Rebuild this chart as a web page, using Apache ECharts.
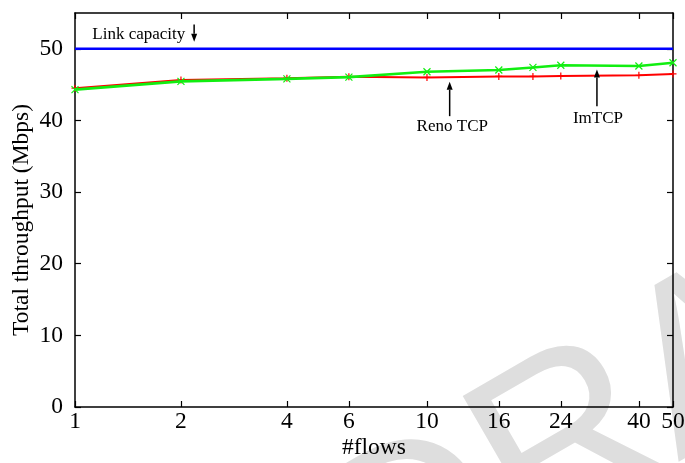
<!DOCTYPE html>
<html>
<head>
<meta charset="utf-8">
<script src="https://cdn.jsdelivr.net/npm/echarts@6/dist/echarts.min.js"></script>
<style>
  html, body { margin: 0; padding: 0; background: #ffffff; }
  #chart { width: 685px; height: 463px; }
</style>
</head>
<body>
<div id="chart"></div>
<script>
// Number of concurrent flows (log-scaled x axis)
const flows = [1, 2, 4, 6, 10, 16, 20, 24, 40, 50];
// Total throughput in Mbps
const renoTcp = [44.5, 45.65, 45.9, 46.1, 46.0, 46.15, 46.15, 46.2, 46.3, 46.5];
const imTcp   = [44.3, 45.45, 45.8, 46.05, 46.8, 47.05, 47.4, 47.7, 47.6, 48.05];
// Bottleneck link capacity in Mbps
const linkCapacity = 50;
const capacityRange = [1, 50];
// Tick values
const xTicks = [1, 2, 4, 6, 10, 16, 24, 40, 50];
const yTicks = [0, 10, 20, 30, 40, 50];

const SERIF = '"Liberation Serif", "Times New Roman", serif';
const PLUS  = 'path://M5,0L5,10M0,5L10,5';
const CROSS = 'path://M0,0L10,10M10,0L0,10';

const chart = echarts.init(document.getElementById('chart'), null, { renderer: 'canvas' });

const axisLine = { show: true, onZero: false, lineStyle: { color: '#000', width: 1.5 } };
const tickStyle = { color: '#000', width: 1.2 };

function xAxisCfg(position, labels) {
  return {
    type: 'log', logBase: 10, min: 1, max: 50, position: position,
    axisLine: axisLine,
    axisTick: { show: true, inside: true, length: 6, lineStyle: tickStyle, customValues: xTicks },
    axisLabel: labels ? {
      show: true, customValues: xTicks, margin: 3,
      fontFamily: SERIF, fontSize: 23.5, color: '#000',
      formatter: v => String(Math.round(v))
    } : { show: false },
    minorTick: { show: false }, splitLine: { show: false }, minorSplitLine: { show: false },
    name: labels ? '#flows' : '', nameLocation: 'middle', nameGap: 29, nameMoveOverlap: false,
    nameTextStyle: { fontFamily: SERIF, fontSize: 23.5, color: '#000' }
  };
}
function yAxisCfg(position, labels) {
  return {
    type: 'value', min: 0, max: 55, position: position,
    axisLine: axisLine,
    axisTick: { show: true, inside: true, length: 6, lineStyle: tickStyle, customValues: yTicks },
    axisLabel: labels ? {
      show: true, customValues: yTicks, margin: 12,
      fontFamily: SERIF, fontSize: 23.5, color: '#000'
    } : { show: false },
    splitLine: { show: false },
    name: labels ? 'Total throughput (Mbps)' : '', nameLocation: 'middle', nameGap: 41, nameMoveOverlap: false,
    nameTextStyle: { fontFamily: SERIF, fontSize: 23.5, color: '#000', padding: [0, 20, 0, 0] }
  };
}

chart.setOption({
  animation: false,
  backgroundColor: '#ffffff',
  grid: { left: 75, right: 12, top: 13, bottom: 56, containLabel: false, outerBoundsMode: 'none' },
  xAxis: [xAxisCfg('bottom', true), xAxisCfg('top', false)],
  yAxis: [yAxisCfg('left', true), yAxisCfg('right', false)],
  series: [
    {
      name: 'Link capacity', type: 'line', xAxisIndex: 1, yAxisIndex: 0,
      data: capacityRange.map(x => [x, linkCapacity]),
      showSymbol: false, symbol: 'none',
      lineStyle: { color: '#0000ff', width: 2.5 }, z: 3
    },
    {
      name: 'Reno TCP', type: 'line', xAxisIndex: 0, yAxisIndex: 1,
      data: flows.map((f, i) => [f, renoTcp[i]]),
      symbol: PLUS, symbolSize: 7,
      itemStyle: { color: '#ff0000', borderColor: '#ff0000', borderWidth: 1.2 },
      lineStyle: { color: '#ff0000', width: 2 }, z: 4
    },
    {
      name: 'ImTCP', type: 'line', xAxisIndex: 0, yAxisIndex: 0,
      data: flows.map((f, i) => [f, imTcp[i]]),
      symbol: CROSS, symbolSize: 7,
      itemStyle: { color: '#11ee11', borderColor: '#11ee11', borderWidth: 1.2 },
      lineStyle: { color: '#11ee11', width: 2.6 }, z: 5
    }
  ]
});

// Annotation arrows and labels, anchored in data space
function px(x, y) { return chart.convertToPixel({ xAxisIndex: 0, yAxisIndex: 0 }, [x, y]); }

function arrow(x, yTail, yTip) {
  const a = px(x, yTail), b = px(x, yTip);
  const dir = b[1] < a[1] ? -1 : 1;
  const head = 8, half = 3;
  return [
    { type: 'line', z: 20, shape: { x1: a[0], y1: a[1], x2: b[0], y2: b[1] - dir * head },
      style: { stroke: '#000', lineWidth: 1.5 } },
    { type: 'polygon', z: 20,
      shape: { points: [[b[0], b[1]], [b[0] - half, b[1] - dir * head], [b[0] + half, b[1] - dir * head]] },
      style: { fill: '#000' } }
  ];
}
function label(x, y, text, align) {
  const p = px(x, y);
  return { type: 'text', z: 20, x: p[0], y: p[1],
    style: { text: text, fontFamily: SERIF, fontSize: 17, fill: '#000',
             textAlign: align, textVerticalAlign: 'middle' } };
}

const graphics = [
  // faint watermark lettering behind the plot
  { type: 'text', z: -10, x: 345, y: 578, rotation: Math.PI / 6, silent: true,
    style: { text: 'DRAFT', fontFamily: '"Liberation Sans", Arial, sans-serif', fontSize: 240,
             fill: '#dedede', textAlign: 'left', textVerticalAlign: 'middle' } },
  label(1.12, 52.0, 'Link capacity', 'left'),
  ...arrow(2.18, 53.4, 51.0),
  label(11.8, 39.1, 'Reno TCP', 'center'),
  ...arrow(11.6, 40.6, 45.4),
  label(30.6, 40.3, 'ImTCP', 'center'),
  ...arrow(30.4, 42.0, 47.1)
];
chart.setOption({ graphic: graphics });
</script>
</body>
</html>
